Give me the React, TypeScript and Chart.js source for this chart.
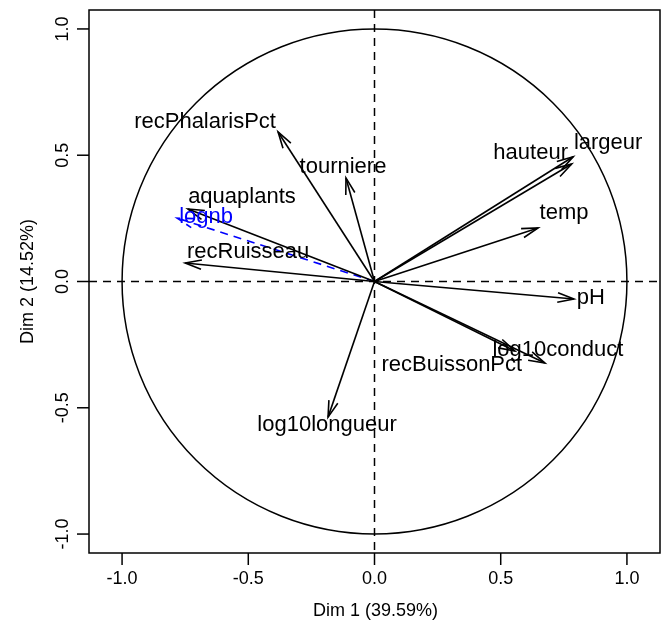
import React, { useEffect, useRef } from "react";
import { Chart, registerables } from "chart.js";

Chart.register(...registerables);

// Active variables: coordinates on Dim 1 / Dim 2
const varNames = [
  "recPhalarisPct",
  "tourniere",
  "aquaplants",
  "recRuisseau",
  "hauteur",
  "largeur",
  "temp",
  "pH",
  "log10conduct",
  "recBuissonPct",
  "log10longueur",
];
const varDim1 = [-0.382, -0.113, -0.739, -0.75, 0.781, 0.787, 0.648, 0.79, 0.675, 0.556, -0.184];
const varDim2 = [0.592, 0.41, 0.287, 0.073, 0.465, 0.494, 0.212, -0.069, -0.323, -0.275, -0.537];

// Supplementary variable (drawn blue, dashed)
const supNames = ["lognb"];
const supDim1 = [-0.782];
const supDim2 = [0.251];

const tickValues = [-1, -0.5, 0, 0.5, 1];
const tickLabels = ["-1.0", "-0.5", "0.0", "0.5", "1.0"];

const xTitle = "Dim 1 (39.59%)";
const yTitle = "Dim 2 (14.52%)";

// Label placement relative to each arrow tip, in pixels
const labelOffsets: Record<string, [number, number]> = {
  recPhalarisPct: [-73, -10],
  tourniere: [-3, -11],
  aquaplants: [54, -12],
  recRuisseau: [63, -11],
  hauteur: [-41, -11],
  largeur: [35, -14],
  temp: [26, -15],
  pH: [17, -1],
  log10conduct: [13, -13],
  recBuissonPct: [-63, 14],
  log10longueur: [-1, 8],
  lognb: [29, -1],
};

const FONT = '"Liberation Sans", Arial, Helvetica, sans-serif';

function drawArrowHead(ctx: CanvasRenderingContext2D, x0: number, y0: number, x1: number, y1: number, len: number, angDeg: number) {
  const a = Math.atan2(y1 - y0, x1 - x0);
  const ang = (angDeg * Math.PI) / 180;
  ctx.beginPath();
  ctx.moveTo(x1 - len * Math.cos(a - ang), y1 - len * Math.sin(a - ang));
  ctx.lineTo(x1, y1);
  ctx.lineTo(x1 - len * Math.cos(a + ang), y1 - len * Math.sin(a + ang));
  ctx.stroke();
}

const pcaDecor = {
  id: "pcaDecor",
  beforeDatasetsDraw(chart: any) {
    const { ctx, chartArea: ca } = chart;
    const xs = chart.scales.x;
    const ys = chart.scales.y;
    const cx = xs.getPixelForValue(0);
    const cy = ys.getPixelForValue(0);
    const r = xs.getPixelForValue(1) - cx;
    ctx.save();
    // unit circle
    ctx.strokeStyle = "#000";
    ctx.lineWidth = 1.5;
    ctx.beginPath();
    ctx.arc(cx, cy, r, 0, Math.PI * 2);
    ctx.stroke();
    // dashed reference lines
    ctx.setLineDash([8, 6]);
    ctx.lineWidth = 1.5;
    ctx.beginPath();
    ctx.moveTo(ca.left, cy);
    ctx.lineTo(ca.right, cy);
    ctx.moveTo(cx, ca.top);
    ctx.lineTo(cx, ca.bottom);
    ctx.stroke();
    ctx.restore();
  },
  afterDatasetsDraw(chart: any) {
    const { ctx } = chart;
    const xs = chart.scales.x;
    const ys = chart.scales.y;
    const x0 = xs.getPixelForValue(0);
    const y0 = ys.getPixelForValue(0);
    ctx.save();
    chart.data.datasets.forEach((ds: any) => {
      const p = ds.data[1];
      const px = xs.getPixelForValue(p.x);
      const py = ys.getPixelForValue(p.y);
      ctx.strokeStyle = ds.borderColor;
      ctx.lineWidth = ds.borderWidth;
      ctx.setLineDash(ds.borderDash || []);
      drawArrowHead(ctx, x0, y0, px, py, 17, 16);
      ctx.setLineDash([]);
      const off = labelOffsets[ds.label] || [0, -12];
      ctx.fillStyle = ds.borderColor === "#0000ff" ? "#0000ff" : "#000";
      ctx.font = `22px ${FONT}`;
      ctx.textAlign = "center";
      ctx.textBaseline = "middle";
      ctx.fillText(ds.label, px + off[0], py + off[1]);
    });
    ctx.restore();
  },
  afterDraw(chart: any) {
    const { ctx, chartArea: ca } = chart;
    const xs = chart.scales.x;
    const ys = chart.scales.y;
    ctx.save();
    ctx.strokeStyle = "#000";
    ctx.lineWidth = 1.5;
    ctx.strokeRect(ca.left, ca.top, ca.right - ca.left, ca.bottom - ca.top);
    ctx.fillStyle = "#000";
    ctx.font = `18px ${FONT}`;
    // x ticks
    ctx.textAlign = "center";
    ctx.textBaseline = "middle";
    tickValues.forEach((v, i) => {
      const px = xs.getPixelForValue(v);
      ctx.beginPath();
      ctx.moveTo(px, ca.bottom);
      ctx.lineTo(px, ca.bottom + 12);
      ctx.stroke();
      ctx.fillText(tickLabels[i], px, ca.bottom + 26);
    });
    // y ticks (rotated labels)
    tickValues.forEach((v, i) => {
      const py = ys.getPixelForValue(v);
      ctx.beginPath();
      ctx.moveTo(ca.left, py);
      ctx.lineTo(ca.left - 12, py);
      ctx.stroke();
      ctx.save();
      ctx.translate(ca.left - 26, py);
      ctx.rotate(-Math.PI / 2);
      ctx.fillText(tickLabels[i], 0, 0);
      ctx.restore();
    });
    // axis titles
    ctx.fillText(xTitle, (ca.left + ca.right) / 2 + 1, ca.bottom + 58);
    ctx.save();
    ctx.translate(ca.left - 61, (ca.top + ca.bottom) / 2);
    ctx.rotate(-Math.PI / 2);
    ctx.fillText(yTitle, 0, 0);
    ctx.restore();
    ctx.restore();
  },
};

export default function App() {
  const canvasRef = useRef<HTMLCanvasElement | null>(null);

  useEffect(() => {
    if (!canvasRef.current) return;
    const datasets: any[] = [];
    varNames.forEach((n, i) => {
      datasets.push({
        label: n,
        data: [
          { x: 0, y: 0 },
          { x: varDim1[i], y: varDim2[i] },
        ],
        showLine: true,
        borderColor: "#000000",
        borderWidth: 1.6,
        pointRadius: 0,
        fill: false,
      });
    });
    supNames.forEach((n, i) => {
      datasets.push({
        label: n,
        data: [
          { x: 0, y: 0 },
          { x: supDim1[i], y: supDim2[i] },
        ],
        showLine: true,
        borderColor: "#0000ff",
        borderWidth: 1.6,
        borderDash: [8, 6],
        pointRadius: 0,
        fill: false,
      });
    });

    const chart = new Chart(canvasRef.current, {
      type: "scatter",
      data: { datasets },
      options: {
        responsive: false,
        animation: false,
        layout: { padding: { left: 89, right: 5, top: 10, bottom: 73 } },
        scales: {
          x: { type: "linear", min: -1.131, max: 1.131, display: false },
          y: { type: "linear", min: -1.075, max: 1.075, display: false },
        },
        plugins: {
          legend: { display: false },
          tooltip: { enabled: false },
        },
      },
      plugins: [pcaDecor],
    });
    return () => chart.destroy();
  }, []);

  return (
    <div style={{ position: "absolute", left: 0, top: 0, width: 665, height: 626, background: "#fff" }}>
      <canvas ref={canvasRef} width={665} height={626} style={{ display: "block" }} />
    </div>
  );
}
